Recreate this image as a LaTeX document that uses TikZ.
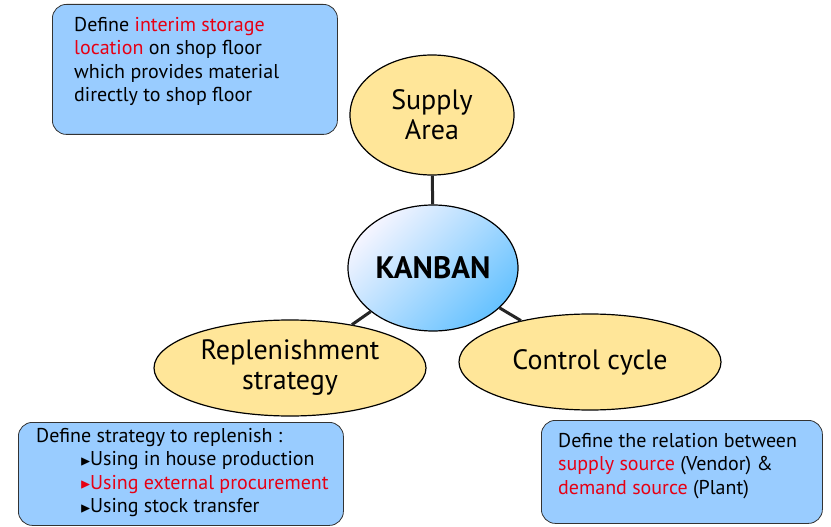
\documentclass[tikz,border=0pt]{standalone}
\usepackage{amssymb}
\usepackage{fontspec}
\setmainfont{PT Sans}
\usetikzlibrary{shapes.geometric}
\definecolor{boxblue}{RGB}{153,204,255}
\definecolor{ellyel}{RGB}{255,230,153}
\definecolor{redt}{RGB}{230,0,20}
\newcommand{\arrb}{\raisebox{0.5pt}{\fontsize{14}{14}\selectfont$\blacktriangleright$}\hspace{-1pt}}
\begin{document}
\begin{tikzpicture}[x=1pt,y=-1pt,
  box/.style={draw=black!80,line width=0.8pt,fill=boxblue,rounded corners=14pt},
  ell/.style={ellipse,draw=black,line width=1.2pt,fill=ellyel,inner sep=0pt,align=center,font=\fontsize{28}{30}\selectfont},
  txt/.style={align=left,anchor=north west,font=\fontsize{20}{23.5}\selectfont,inner sep=0pt},
  conn/.style={line width=3pt,black!85}]
\useasboundingbox (0,0) rectangle (831,527);
\node[box,minimum width=285pt,minimum height=130pt,anchor=north west] (b1) at (52,4) {};
\node[txt] (t1) at (74,17) {Define \textcolor{redt}{interim storage}\\\textcolor{redt}{location} on shop floor\\which provides material\\directly to shop floor};
\node[box,minimum width=325pt,minimum height=103pt,anchor=north west] (b2) at (18,422) {};
\node[txt] (t2) at (36,428) {Define strategy to replenish :\\\hspace*{44pt}\arrb Using in house production\\\hspace*{44pt}\textcolor{redt}{\arrb Using external procurement}\\\hspace*{44pt}\arrb Using stock transfer};
\node[box,minimum width=281pt,minimum height=103pt,anchor=north west] (b3) at (541,420) {};
\node[txt] (t3) at (558,433) {Define the relation between\\\textcolor{redt}{supply source} (Vendor) \&\\\textcolor{redt}{demand source} (Plant)};
\node[ell,minimum width=164pt,minimum height=120pt] (sup) at (432,115) {Supply\\Area};
\node[ell,minimum width=272pt,minimum height=96pt] (rep) at (290,368) {Replenishment\\strategy};
\node[ell,minimum width=262pt,minimum height=96pt] (ctl) at (590,362) {Control cycle};
\node[ellipse,draw=black,line width=1.2pt,minimum width=170pt,minimum height=126pt,inner sep=0pt,
  shading=axis,left color=white!80!blue!20,right color=blue!40!cyan!60!white,shading angle=45,
  font=\fontsize{31}{34}\selectfont\bfseries] (kan) at (433,268) {KANBAN};
\draw[conn] (sup) -- (kan);
\draw[conn] (kan) -- (rep);
\draw[conn] (kan) -- (ctl);
\end{tikzpicture}
\end{document}
